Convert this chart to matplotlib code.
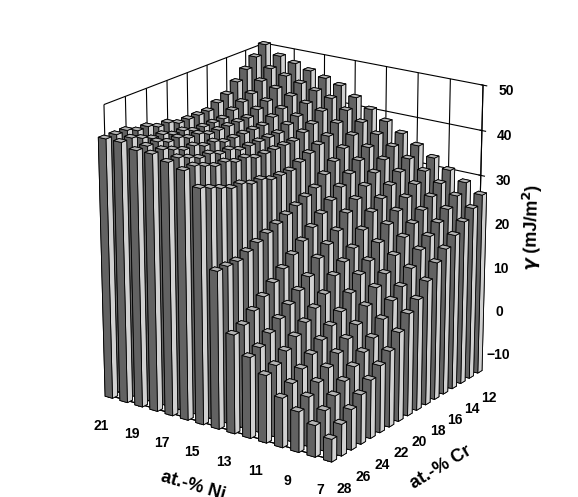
import numpy as np
import matplotlib
matplotlib.use("Agg")
import matplotlib.pyplot as plt
plt.rcParams['font.family'] = ['Liberation Sans', 'DejaVu Sans']
plt.rcParams['font.weight'] = 'bold'

ni = list(range(7, 22))
cr = list(range(12, 29))
gamma = [
 [26,24,22,20,18,16,13,10,8,5,2,0,-2,-4,-6,-8,-10],
 [28,26,24,22,20,18,15,12,10,7,4,2,0,-2,-4,-6,-8],
 [30,28,26,24,22,20,17,14,12,9,6,4,2,0,-2,-4,-6],
 [32,30,28,26,24,22,19,16,14,11,8,6,4,2,0,-2,-4],
 [34,32,30,28,26,24,21,18,16,14,11,9,7,5,3,1,0],
 [36,34,32,30,28,26,24,21,19,17,14,12,10,8,6,4,3],
 [38,36,34,32,30,28,26,24,22,20,18,16,14,12,10,8,7],
 [40,38,36,34,32,30,28,27,26,25,24,23,22,21,20,20,20],
 [42,40,38,36,35,34,33,32,32,32,33,33,34,34,35,36,37],
 [44,42,40,38,37,36,36,36,36,36,37,37,38,38,39,40,40],
 [45,43,41,39,38,37,37,37,37,37,38,38,39,39,40,41,41],
 [46,44,42,40,39,38,38,38,38,38,39,39,40,40,41,42,42],
 [47,45,43,41,40,39,39,39,39,39,40,40,41,41,42,42,42],
 [48,46,44,42,41,40,39,39,39,39,40,40,41,41,42,43,43],
 [50,48,46,44,42,41,40,40,40,40,41,41,42,42,43,43,43],
]
zbot = -15

fig = plt.figure(figsize=(5.78, 4.97), dpi=100)
ax = fig.add_axes([0.0, 0.0, 1.0, 1.0], projection='3d')
X, Y = np.meshgrid(ni, cr, indexing='ij')
Z = np.array(gamma, dtype=float)
w = 0.5
ax.bar3d(X.ravel() - w/2, Y.ravel() - w/2, np.full(Z.size, zbot), w, w,
         Z.ravel() - zbot, color='#ebebeb', edgecolor='black', linewidth=0.6, shade=True)
ax.set_xlim(7, 21); ax.set_ylim(12, 28); ax.set_zlim(zbot, 50)
ax.set_xticks([7, 9, 11, 13, 15, 17, 19, 21])
ax.set_yticks([12, 14, 16, 18, 20, 22, 24, 26, 28])
ax.set_zticks([-10, 0, 10, 20, 30, 40, 50])
ax.set_xlabel('at.-% Ni', fontsize=13, fontweight='bold', labelpad=8)
ax.set_ylabel('at.-% Cr', fontsize=13, fontweight='bold', labelpad=8)
ax.set_zlabel(r'$\gamma$ (mJ/m$^2$)', fontsize=13, fontweight='bold', labelpad=6)
for a in (ax.xaxis, ax.yaxis, ax.zaxis):
    a.set_pane_color((1, 1, 1, 0))
    a._axinfo['grid'].update(color='black', linewidth=0.8)
ax.zaxis.set_ticks_position('lower')
ax.zaxis.set_label_position('lower')
ax.tick_params(labelsize=10)
ax.view_init(elev=20, azim=125)
ax.set_box_aspect((1, 1, 1.15), zoom=0.95)
fig.savefig('out.png', dpi=100)
